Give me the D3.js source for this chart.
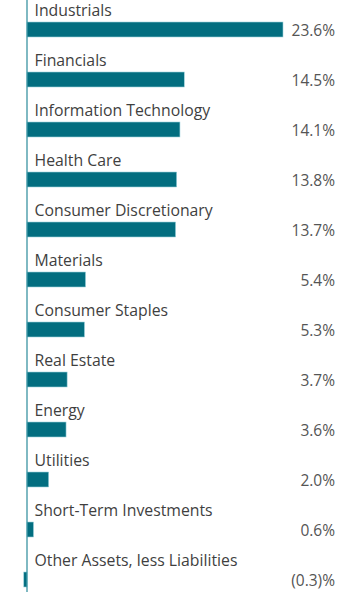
<!DOCTYPE html>
<html><head><meta charset="utf-8">
<script src="https://cdn.jsdelivr.net/npm/d3@7"></script>
<style>body{margin:0;background:#fff}svg{display:block}</style>
</head><body>
<script>
const categories = ["Industrials","Financials","Information Technology","Health Care","Consumer Discretionary","Materials","Consumer Staples","Real Estate","Energy","Utilities","Short-Term Investments","Other Assets, less Liabilities"];
const values = [23.6,14.5,14.1,13.8,13.7,5.4,5.3,3.7,3.6,2.0,0.6,-0.3];
const valueLabels = ["23.6%","14.5%","14.1%","13.8%","13.7%","5.4%","5.3%","3.7%","3.6%","2.0%","0.6%","(0.3)%"];

const W = 360, H = 597;
const svg = d3.select("body").append("svg").attr("width", W).attr("height", H);
const x0 = 27;
const x = d3.scaleLinear().domain([0, 23.6]).range([x0, 283]);
const y = d3.scaleBand().domain(categories).range([0, 600]).paddingInner(0).paddingOuter(0);
const barTop = 22, barH = 15;

const g = svg.append("g");
categories.forEach((c, i) => {
  const v = values[i];
  const top = y(c) + barTop;
  g.append("rect")
    .attr("x", Math.min(x(0), x(v)))
    .attr("y", top)
    .attr("width", Math.abs(x(v) - x(0)))
    .attr("height", barH)
    .attr("fill", "#036e80")
    .attr("stroke", "#9fd3dc")
    .attr("stroke-width", 0.6);
  g.append("text")
    .attr("x", 34.5).attr("y", y(c) + 16)
    .attr("font-family", "'Open Sans', sans-serif")
    .attr("font-size", 15.8).attr("fill", "#3f3f3f")
    .attr("font-weight", 500)
    .text(c);
  g.append("text")
    .attr("x", 335).attr("y", top + barH - 1)
    .attr("text-anchor", "end")
    .attr("font-family", "'Open Sans', sans-serif")
    .attr("font-size", 15.5).attr("fill", "#555")
    .text(valueLabels[i]);
});
svg.append("line")
  .attr("x1", x(0)).attr("x2", x(0))
  .attr("y1", 0).attr("y2", 592)
  .attr("stroke", "#2a8a9a").attr("stroke-width", 1.2);
</script>
</body></html>
